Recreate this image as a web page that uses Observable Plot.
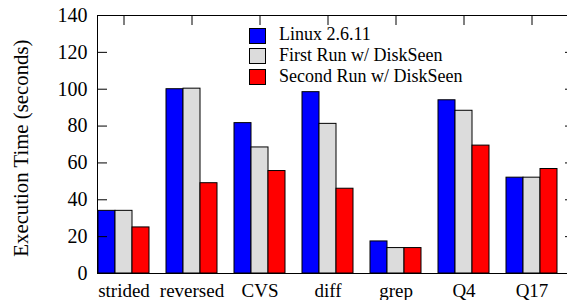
<!DOCTYPE html>
<html>
<head>
<meta charset="utf-8">
<script src="https://cdn.jsdelivr.net/npm/d3@7"></script>
<script src="https://cdn.jsdelivr.net/npm/@observablehq/plot@0.6"></script>
<style>
  html, body { margin: 0; padding: 0; background: #fff; overflow: hidden; }
  #wrap { position: relative; width: 567px; height: 300px; font-family: "Liberation Serif", "Times New Roman", serif; }
  #wrap svg { overflow: hidden; }
  .leg { position: absolute; left: 249px; width: 0; height: 0; }
  .leg .box { position: absolute; left: 0; width: 15px; height: 14px; border: 1px solid #000; }
  .leg .txt { position: absolute; left: 30px; top: -3.5px; white-space: nowrap; font-size: 18px; line-height: 20px; color: #000; }
</style>
</head>
<body>
<div id="wrap"></div>
<script>
const categories = ["strided", "reversed", "CVS", "diff", "grep", "Q4", "Q17"];
const seriesNames = ["Linux 2.6.11", "First Run w/ DiskSeen", "Second Run w/ DiskSeen"];
const seriesColors = ["#0000ff", "#dcdcdc", "#ff0000"];
const linux  = [34, 100, 81.6, 98.4, 17.4, 94, 52];
const first  = [34, 100.3, 68.4, 81.2, 13.8, 88.3, 52];
const second = [25, 49, 55.6, 46, 13.8, 69.4, 56.7];
const yTicks = [0, 20, 40, 60, 80, 100, 120, 140];
const yLabel = "Execution Time (seconds)";

const seriesValues = [linux, first, second];
const data = [];
const domain = [];
categories.forEach((c, i) => {
  seriesNames.forEach((s, j) => {
    const key = c + "|" + j;
    domain.push(key);
    data.push({key, category: c, series: s, value: seriesValues[j][i]});
  });
  domain.push(c + "|gap");
});
const centerKeys = categories.map(c => c + "|1");
const serif = "'Liberation Serif', 'Times New Roman', serif";

const chart = Plot.plot({
  width: 567,
  height: 300,
  marginLeft: 97,
  marginRight: -7,
  marginTop: 15,
  marginBottom: 27,
  style: {fontFamily: serif, fontSize: "19px", color: "#000", background: "#fff", overflow: "hidden"},
  x: {type: "band", domain, padding: 0},
  y: {domain: [0, 140]},
  color: {domain: seriesNames, range: seriesColors},
  marks: [
    Plot.barY(data, {x: "key", y: "value", fill: "series", stroke: "#000", strokeWidth: 1, inset: 0}),
    Plot.frame({stroke: "#000", strokeWidth: 1}),
    Plot.axisY({anchor: "left", ticks: yTicks, tickSize: -10, tickPadding: 20, label: null, stroke: "#000", fontSize: 20}),
    Plot.axisY({anchor: "right", ticks: yTicks, tickSize: -10, tickFormat: () => "", label: null, stroke: "#000"}),
    Plot.axisX({anchor: "top", ticks: centerKeys, tickSize: -9, tickFormat: () => "", label: null, stroke: "#000"}),
    Plot.axisX({anchor: "bottom", ticks: centerKeys, tickSize: 0, tickPadding: 10, tickFormat: k => k.split("|")[0], label: null, fontSize: 19}),
    Plot.text([yLabel], {text: d => d, frameAnchor: "left", textAnchor: "middle", rotate: -90, dx: -76, dy: 3.6, fontSize: 20.8, fill: "#000"})
  ]
});

const wrap = document.getElementById("wrap");
wrap.appendChild(chart);

const legTops = [27.7, 48.3, 69];
seriesNames.forEach((s, j) => {
  const row = document.createElement("div");
  row.className = "leg";
  row.style.top = legTops[j] + "px";
  const box = document.createElement("div");
  box.className = "box";
  box.style.background = seriesColors[j];
  const txt = document.createElement("div");
  txt.className = "txt";
  txt.textContent = s;
  row.appendChild(box);
  row.appendChild(txt);
  wrap.appendChild(row);
});
</script>
</body>
</html>
